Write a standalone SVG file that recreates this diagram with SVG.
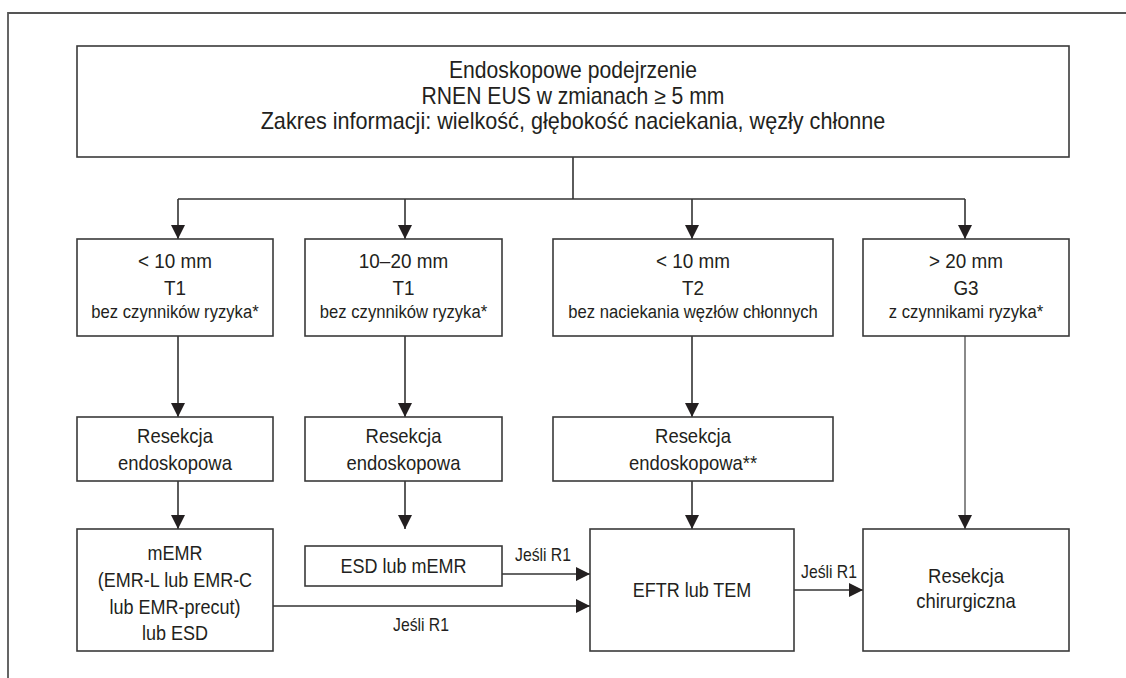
<svg xmlns="http://www.w3.org/2000/svg" width="1126" height="678" viewBox="0 0 1126 678">
<style>
text{font-family:"Liberation Sans",Arial,sans-serif;fill:#231f20;text-anchor:middle}
.box{fill:#fff;stroke:#3a3a3a;stroke-width:1.6}
.frame{fill:none;stroke:#555;stroke-width:1.8}
.ln{fill:none;stroke:#333;stroke-width:1.6}
.gl{fill:none;stroke:#8a8a8a;stroke-width:2}
.t23{font-size:23px}
.t21{font-size:21px}
.t20{font-size:20px}
.t205{font-size:20.5px}
.t18{font-size:18.5px}
.lab{font-size:17.5px}
</style>
<defs>
<marker id="ah" markerUnits="userSpaceOnUse" markerWidth="14" markerHeight="14" viewBox="0 0 14 14" refX="14" refY="7" orient="auto">
<path d="M0,0 L14,7 L0,14 Z" fill="#231f20"/>
</marker>
</defs>
<rect width="1126" height="678" fill="#fff"/>
<path class="frame" d="M8,678 V13 H1126"/>
<g id="connectors">
<path class="ln" d="M573,157 V199"/>
<path class="ln" d="M178,199 H965"/>
<path class="ln" d="M178,199 V239" marker-end="url(#ah)"/>
<path class="ln" d="M405,199 V239" marker-end="url(#ah)"/>
<path class="ln" d="M692,199 V239" marker-end="url(#ah)"/>
<path class="ln" d="M965,199 V239" marker-end="url(#ah)"/>
<path class="ln" d="M178,336 V417" marker-end="url(#ah)"/>
<path class="ln" d="M405,336 V417" marker-end="url(#ah)"/>
<path class="ln" d="M692,336 V417" marker-end="url(#ah)"/>
<path class="ln" d="M178,481 V529" marker-end="url(#ah)"/>
<path class="ln" d="M405,481 V529" marker-end="url(#ah)"/>
<path class="ln" d="M692,481 V529" marker-end="url(#ah)"/>
<path class="gl" d="M965,336 V529" marker-end="url(#ah)"/>
<path class="ln" d="M502,574 H590" marker-end="url(#ah)"/>
<path class="ln" d="M273,606 H590" marker-end="url(#ah)"/>
<path class="ln" d="M794,590 H863" marker-end="url(#ah)"/>
<text class="lab" transform="matrix(0.9,0,0,1,54.3,0)" x="543" y="561">Jeśli R1</text>
<text class="lab" transform="matrix(0.9,0,0,1,42.1,0)" x="421" y="631">Jeśli R1</text>
<text class="lab" transform="matrix(0.9,0,0,1,82.9,0)" x="829" y="578">Jeśli R1</text>
</g>
<g id="top">
<rect class="box" x="77" y="46" width="992" height="111"/>
<g transform="matrix(0.92,0,0,1,45.84,0)">
<text class="t23" x="573" y="78">Endoskopowe podejrzenie</text>
<text class="t23" x="573" y="104">RNEN EUS w zmianach ≥ 5 mm</text>
</g>
<text class="t23" transform="matrix(0.94,0,0,1,34.38,0)" x="573" y="129">Zakres informacji: wielkość, głębokość naciekania, węzły chłonne</text>
</g>
<g id="n1">
<rect class="box" x="77" y="239" width="196" height="97"/>
<g transform="matrix(0.9,0,0,1,17.5,0)">
<text class="t21" x="175" y="268">&lt; 10 mm</text>
<text class="t21" x="175" y="295">T1</text>
<text class="t18" x="175" y="318">bez czynników ryzyka*</text>
</g>
</g>
<g id="n2">
<rect class="box" x="305" y="239" width="197" height="97"/>
<g transform="matrix(0.9,0,0,1,40.35,0)">
<text class="t21" x="403.5" y="268">10–20 mm</text>
<text class="t21" x="403.5" y="295">T1</text>
<text class="t18" x="403.5" y="318">bez czynników ryzyka*</text>
</g>
</g>
<g id="n3">
<rect class="box" x="553" y="239" width="280" height="97"/>
<g transform="matrix(0.9,0,0,1,69.3,0)">
<text class="t21" x="693" y="268">&lt; 10 mm</text>
<text class="t21" x="693" y="295">T2</text>
<text class="t18" x="693" y="318">bez naciekania węzłów chłonnych</text>
</g>
</g>
<g id="n4">
<rect class="box" x="863" y="239" width="206" height="97"/>
<g transform="matrix(0.9,0,0,1,96.6,0)">
<text class="t21" x="966" y="268">&gt; 20 mm</text>
<text class="t21" x="966" y="295">G3</text>
<text class="t18" x="966" y="318">z czynnikami ryzyka*</text>
</g>
</g>
<g id="r1">
<rect class="box" x="77" y="417" width="196" height="64"/>
<g transform="matrix(0.9,0,0,1,17.5,0)">
<text class="t205" x="175" y="443">Resekcja</text>
<text class="t205" x="175" y="470">endoskopowa</text>
</g>
</g>
<g id="r2">
<rect class="box" x="305" y="417" width="197" height="64"/>
<g transform="matrix(0.9,0,0,1,40.35,0)">
<text class="t205" x="403.5" y="443">Resekcja</text>
<text class="t205" x="403.5" y="470">endoskopowa</text>
</g>
</g>
<g id="r3">
<rect class="box" x="553" y="417" width="280" height="64"/>
<g transform="matrix(0.9,0,0,1,69.3,0)">
<text class="t205" x="693" y="443">Resekcja</text>
<text class="t205" x="693" y="470">endoskopowa**</text>
</g>
</g>
<g id="memr">
<rect class="box" x="77" y="529" width="196" height="122"/>
<g transform="matrix(0.9,0,0,1,17.5,0)">
<text class="t20" x="175" y="560">mEMR</text>
<text class="t20" x="175" y="587">(EMR-L lub EMR-C</text>
<text class="t20" x="175" y="614">lub EMR-precut)</text>
<text class="t20" x="175" y="640">lub ESD</text>
</g>
</g>
<g id="esd">
<rect class="box" x="305" y="546" width="197" height="40"/>
<text class="t20" transform="matrix(0.9,0,0,1,40.35,0)" x="403.5" y="573">ESD lub mEMR</text>
</g>
<g id="eftr">
<rect class="box" x="590" y="529" width="204" height="122"/>
<text class="t20" transform="matrix(0.9,0,0,1,69.2,0)" x="692" y="597">EFTR lub TEM</text>
</g>
<g id="chir">
<rect class="box" x="863" y="529" width="206" height="122"/>
<g transform="matrix(0.9,0,0,1,96.6,0)">
<text class="t205" x="966" y="583">Resekcja</text>
<text class="t205" x="966" y="608">chirurgiczna</text>
</g>
</g>
</svg>
